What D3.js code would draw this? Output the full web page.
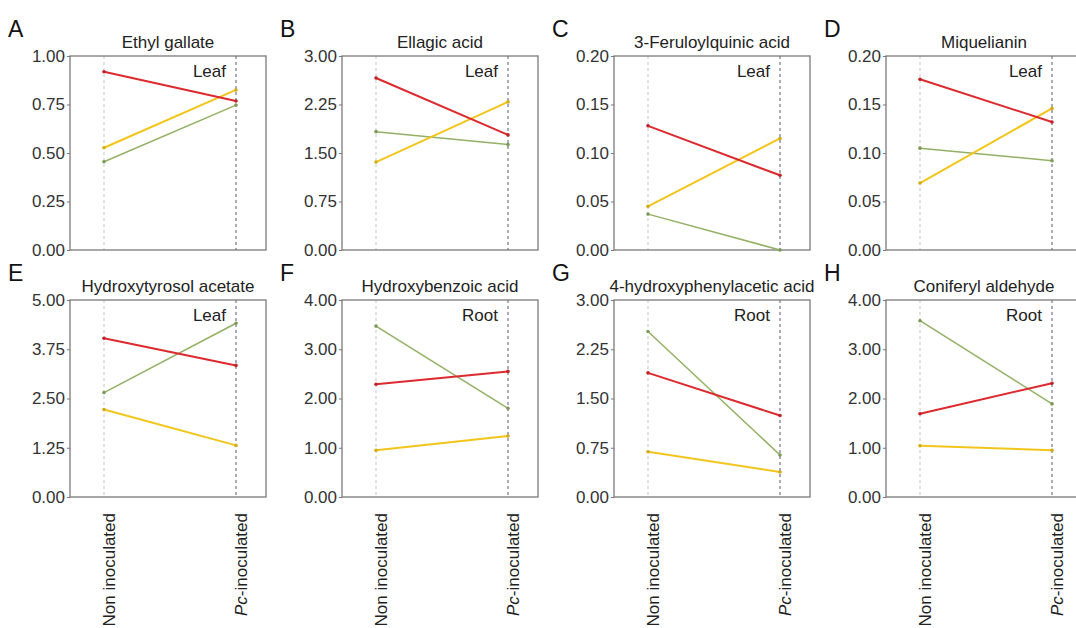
<!DOCTYPE html>
<html>
<head>
<meta charset="utf-8">
<script src="https://cdn.jsdelivr.net/npm/d3@7"></script>
<style>
  html, body { margin: 0; padding: 0; background: #fff; }
  svg { display: block; font-family: "Liberation Sans", Arial, sans-serif; }
</style>
</head>
<body>
<svg id="chart" width="1076" height="628"></svg>
<script>
// Panel identifiers, compound names and the tissue each compound was measured in
const panelLetters = ["A", "B", "C", "D", "E", "F", "G", "H"];
const compounds = [
  "Ethyl gallate", "Ellagic acid", "3-Feruloylquinic acid", "Miquelianin",
  "Hydroxytyrosol acetate", "Hydroxybenzoic acid", "4-hydroxyphenylacetic acid", "Coniferyl aldehyde"
];
const tissues = ["Leaf", "Leaf", "Leaf", "Leaf", "Leaf", "Root", "Root", "Root"];
const conditions = ["Non inoculated", "Pc-inoculated"];

// Values per panel: [non inoculated, Pc-inoculated]
const redValues = [
  [0.919, 0.768], [2.66, 1.78], [0.128, 0.077], [0.176, 0.132],
  [4.03, 3.34], [2.29, 2.55], [1.89, 1.24], [1.69, 2.31]
];
const yellowValues = [
  [0.527, 0.825], [1.36, 2.29], [0.045, 0.115], [0.069, 0.146],
  [2.22, 1.31], [0.95, 1.24], [0.69, 0.38], [1.04, 0.95]
];
const greenValues = [
  [0.455, 0.747], [1.83, 1.63], [0.037, 0.0], [0.105, 0.092],
  [2.65, 4.41], [3.47, 1.80], [2.52, 0.64], [3.58, 1.89]
];

// Y-axis tick values per panel (last tick is the axis maximum)
const yTicks = [
  [0, 0.25, 0.5, 0.75, 1.0],
  [0, 0.75, 1.5, 2.25, 3.0],
  [0, 0.05, 0.10, 0.15, 0.20],
  [0, 0.05, 0.10, 0.15, 0.20],
  [0, 1.25, 2.5, 3.75, 5.0],
  [0, 1.0, 2.0, 3.0, 4.0],
  [0, 0.75, 1.5, 2.25, 3.0],
  [0, 1.0, 2.0, 3.0, 4.0]
];

const seriesStyles = [
  { key: "green",  values: greenValues,  color: "#93b165", width: 1.5 },
  { key: "yellow", values: yellowValues, color: "#f3c51c", width: 2 },
  { key: "red",    values: redValues,    color: "#dc2a2f", width: 2 }
];

// Grid layout of the eight panels
const colLeft = [70, 342, 614, 886];
const rowTop = [56, 300];
const rowHeight = [194, 197];
const boxWidth = 196;

const svg = d3.select("#chart");
svg.append("rect").attr("width", 1076).attr("height", 628).attr("fill", "#fff");

const fmt = d3.format(".2f");

panelLetters.forEach((letter, i) => {
  const col = i % 4, row = Math.floor(i / 4);
  const left = colLeft[col], top = rowTop[row], h = rowHeight[row];
  const g = svg.append("g").attr("transform", `translate(${left},${top})`);

  const x = d3.scalePoint().domain(conditions).range([34, 166]);
  const ticks = yTicks[i];
  const y = d3.scaleLinear().domain([0, ticks[ticks.length - 1]]).range([h, 0]);

  // dashed guides at both conditions
  g.selectAll("line.guide")
    .data(conditions)
    .join("line")
    .attr("class", "guide")
    .attr("x1", d => x(d)).attr("x2", d => x(d))
    .attr("y1", 0).attr("y2", h)
    .attr("stroke", (d, j) => j === 0 ? "#cfcfd4" : "#74748a")
    .attr("stroke-width", 1.2)
    .attr("stroke-dasharray", "3,3");

  // y axis
  const axis = d3.axisLeft(y).tickValues(ticks).tickFormat(fmt).tickSize(3).tickPadding(2);
  const ag = g.append("g").call(axis);
  ag.select(".domain").remove();
  ag.selectAll(".tick line").attr("stroke", "#777");
  ag.selectAll(".tick text")
    .attr("fill", "#333")
    .style("font-size", "17px")
    .style("font-family", "'Liberation Sans', Arial, sans-serif");

  // frame
  g.append("rect")
    .attr("x", 0).attr("y", 0).attr("width", boxWidth).attr("height", h)
    .attr("fill", "none").attr("stroke", "#7a7a7a").attr("stroke-width", 1.3);

  // series lines with end dots
  seriesStyles.forEach(s => {
    const pts = conditions.map((c, k) => [x(c), y(s.values[i][k])]);
    g.append("path")
      .attr("d", d3.line()(pts))
      .attr("fill", "none")
      .attr("stroke", s.color)
      .attr("stroke-width", s.width);
    g.selectAll(null)
      .data(pts)
      .join("circle")
      .attr("cx", d => d[0]).attr("cy", d => d[1])
      .attr("r", 1.8)
      .attr("fill", d3.color(s.color).darker(0.4));
  });

  // tissue tag
  g.append("text")
    .attr("x", x(conditions[1]) - 10)
    .attr("y", 21)
    .attr("text-anchor", "end")
    .attr("fill", "#222")
    .style("font-size", "17px")
    .text(tissues[i]);

  // compound title
  g.append("text")
    .attr("x", boxWidth / 2)
    .attr("y", -8)
    .attr("text-anchor", "middle")
    .attr("fill", "#222")
    .style("font-size", "17px")
    .text(compounds[i]);

  // panel letter
  g.append("text")
    .attr("x", -62)
    .attr("y", -19)
    .attr("fill", "#111")
    .style("font-size", "23px")
    .text(letter);

  // rotated condition labels under the bottom row
  if (row === 1) {
    conditions.forEach(c => {
      const t = g.append("text")
        .attr("transform", `translate(${x(c) + 5},${h + 16}) rotate(-90)`)
        .attr("text-anchor", "end")
        .attr("dy", "0.35em")
        .attr("fill", "#222")
        .style("font-size", "17px");
      if (c.startsWith("Pc")) {
        t.append("tspan").style("font-style", "italic").text("Pc");
        t.append("tspan").text(c.slice(2));
      } else {
        t.text(c);
      }
    });
  }
});
</script>
</body>
</html>
